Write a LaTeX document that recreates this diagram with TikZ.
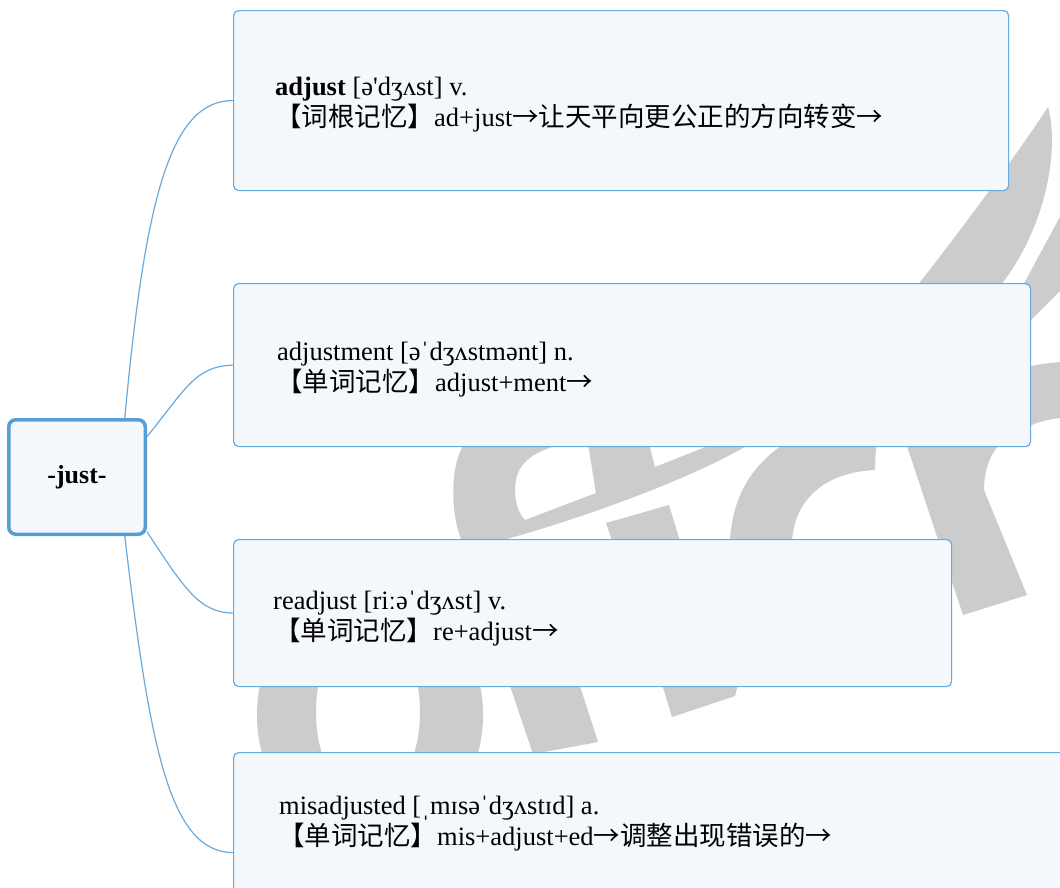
\documentclass[tikz,border=0pt]{standalone}
\usepackage{fontspec}
\setmainfont{Liberation Serif}
\newfontfamily\lserif{Liberation Serif}
\newfontfamily\cjk{Noto Sans CJK SC}
\newcommand\arr{{\cjk →}}
\definecolor{lineblue}{RGB}{104,170,220}
\definecolor{rootblue}{RGB}{86,158,212}
\definecolor{boxfill}{RGB}{244,248,253}
\definecolor{wmgray}{RGB}{204,204,204}
\begin{document}
\begin{tikzpicture}[x=1pt,y=-1pt,
  box/.style={draw=lineblue, line width=1.2pt, fill=boxfill, rounded corners=5pt, anchor=north west, inner sep=0pt},
  rootbox/.style={draw=rootblue, line width=3.5pt, fill=boxfill, rounded corners=7pt, inner sep=0pt, font=\fontsize{26}{31}\selectfont\bfseries},
  txt/.style={anchor=base west, inner sep=0pt, font=\fontsize{26.5}{31}\selectfont},
  link/.style={draw=lineblue, line width=1.2pt},
  wm/.style={fill=wmgray, draw=none}]
\useasboundingbox (0,0) rectangle (1060,887);
\clip (0,0) rectangle (1060,887);
\fill[white] (0,0) rectangle (1060,887);
% watermark
\fill[wm] (917,286) .. controls (965,225) and (1020,150) .. (1048,107)
  .. controls (1060,150) and (1045,230) .. (1000,286) -- cycle;
\fill[wm] (1061,215) -- (1015,300) -- (1029,322) -- (1061,290) -- cycle;
\fill[wm] (464,444) -- (563,444) .. controls (530,452) and (515,465) .. (515,490)
  .. controls (515,505) and (520,515) .. (525,520) -- (596,493) -- (588,444) -- (649,444)
  -- (655,467) -- (713,444) -- (750,444)
  .. controls (680,485) and (560,525) .. (499,541) -- (462,541)
  .. controls (452,520) and (448,470) .. (464,444) -- cycle;
\fill[wm] (606,523) -- (669,505) -- (680,541) -- (612,541) -- cycle;
\fill[wm] (730,541) .. controls (732,505) and (745,470) .. (784,444) -- (876,444) -- (875,470)
  .. controls (830,472) and (795,495) .. (792,541) -- cycle;
\fill[wm] (905,440) -- (1028,440) -- (1028,367) .. controls (1040,364) .. (1061,362)
  -- (1061,418) .. controls (1035,420) and (1005,435) .. (995,450)
  .. controls (987,462) and (984,475) .. (984,490) -- (1027,595) -- (963,615) -- cycle;
\fill[wm, even odd rule] (370,715) ellipse [x radius=113, y radius=130]
  (368,712) ellipse [x radius=52, y radius=90];
\fill[wm] (508,680) -- (578,680) -- (598,742) -- (533,754) -- cycle;
\fill[wm] (662,684) -- (738,684) -- (735,696) -- (672,717) -- cycle;
% boxes
\node[box, minimum width=775, minimum height=180] (b1) at (233,10) {};
\node[box, minimum width=797, minimum height=163] (b2) at (233,283) {};
\node[box, minimum width=718, minimum height=147] (b3) at (233,539) {};
\node[box, minimum width=900, minimum height=200] (b4) at (233,752) {};
\node[rootbox, minimum width=136.5, minimum height=114.5] (root) at (77,477) {\raisebox{-5pt}{-just-}};
% links
\draw[link] (root.51) .. controls (145,200) and (170,100) .. (b1.west);
\draw[link] (root.30) .. controls (185,390) and (195,366) .. (b2.west);
\draw[link] (root.-38) .. controls (185,590) and (200,612.5) .. (b3.west);
\draw[link] (root.-51) .. controls (150,750) and (170,852) .. (b4.west);
% texts
\node[txt] (t1a) at (275,95) {\textbf{adjust} [ə{\lserif '}dʒʌst] v.};
\node[txt] (t1b) at (275,126) {{\cjk 【词根记忆】}ad+just\arr{\cjk 让天平向更公正的方向转变}\arr};
\node[txt] (t2a) at (277,360) {adjustment [əˈdʒʌstmənt] n.};
\node[txt] (t2b) at (276,391) {{\cjk 【单词记忆】}adjust+ment\arr};
\node[txt] (t3a) at (273,609) {readjust [riːəˈdʒʌst] v.};
\node[txt] (t3b) at (274,640) {{\cjk 【单词记忆】}re+adjust\arr};
\node[txt] (t4a) at (279,814) {misadjusted [ˌmɪsəˈdʒʌstɪd] a.};
\node[txt] (t4b) at (278,845) {{\cjk 【单词记忆】}mis+adjust+ed\arr{\cjk 调整出现错误的}\arr};
\end{tikzpicture}
\end{document}
